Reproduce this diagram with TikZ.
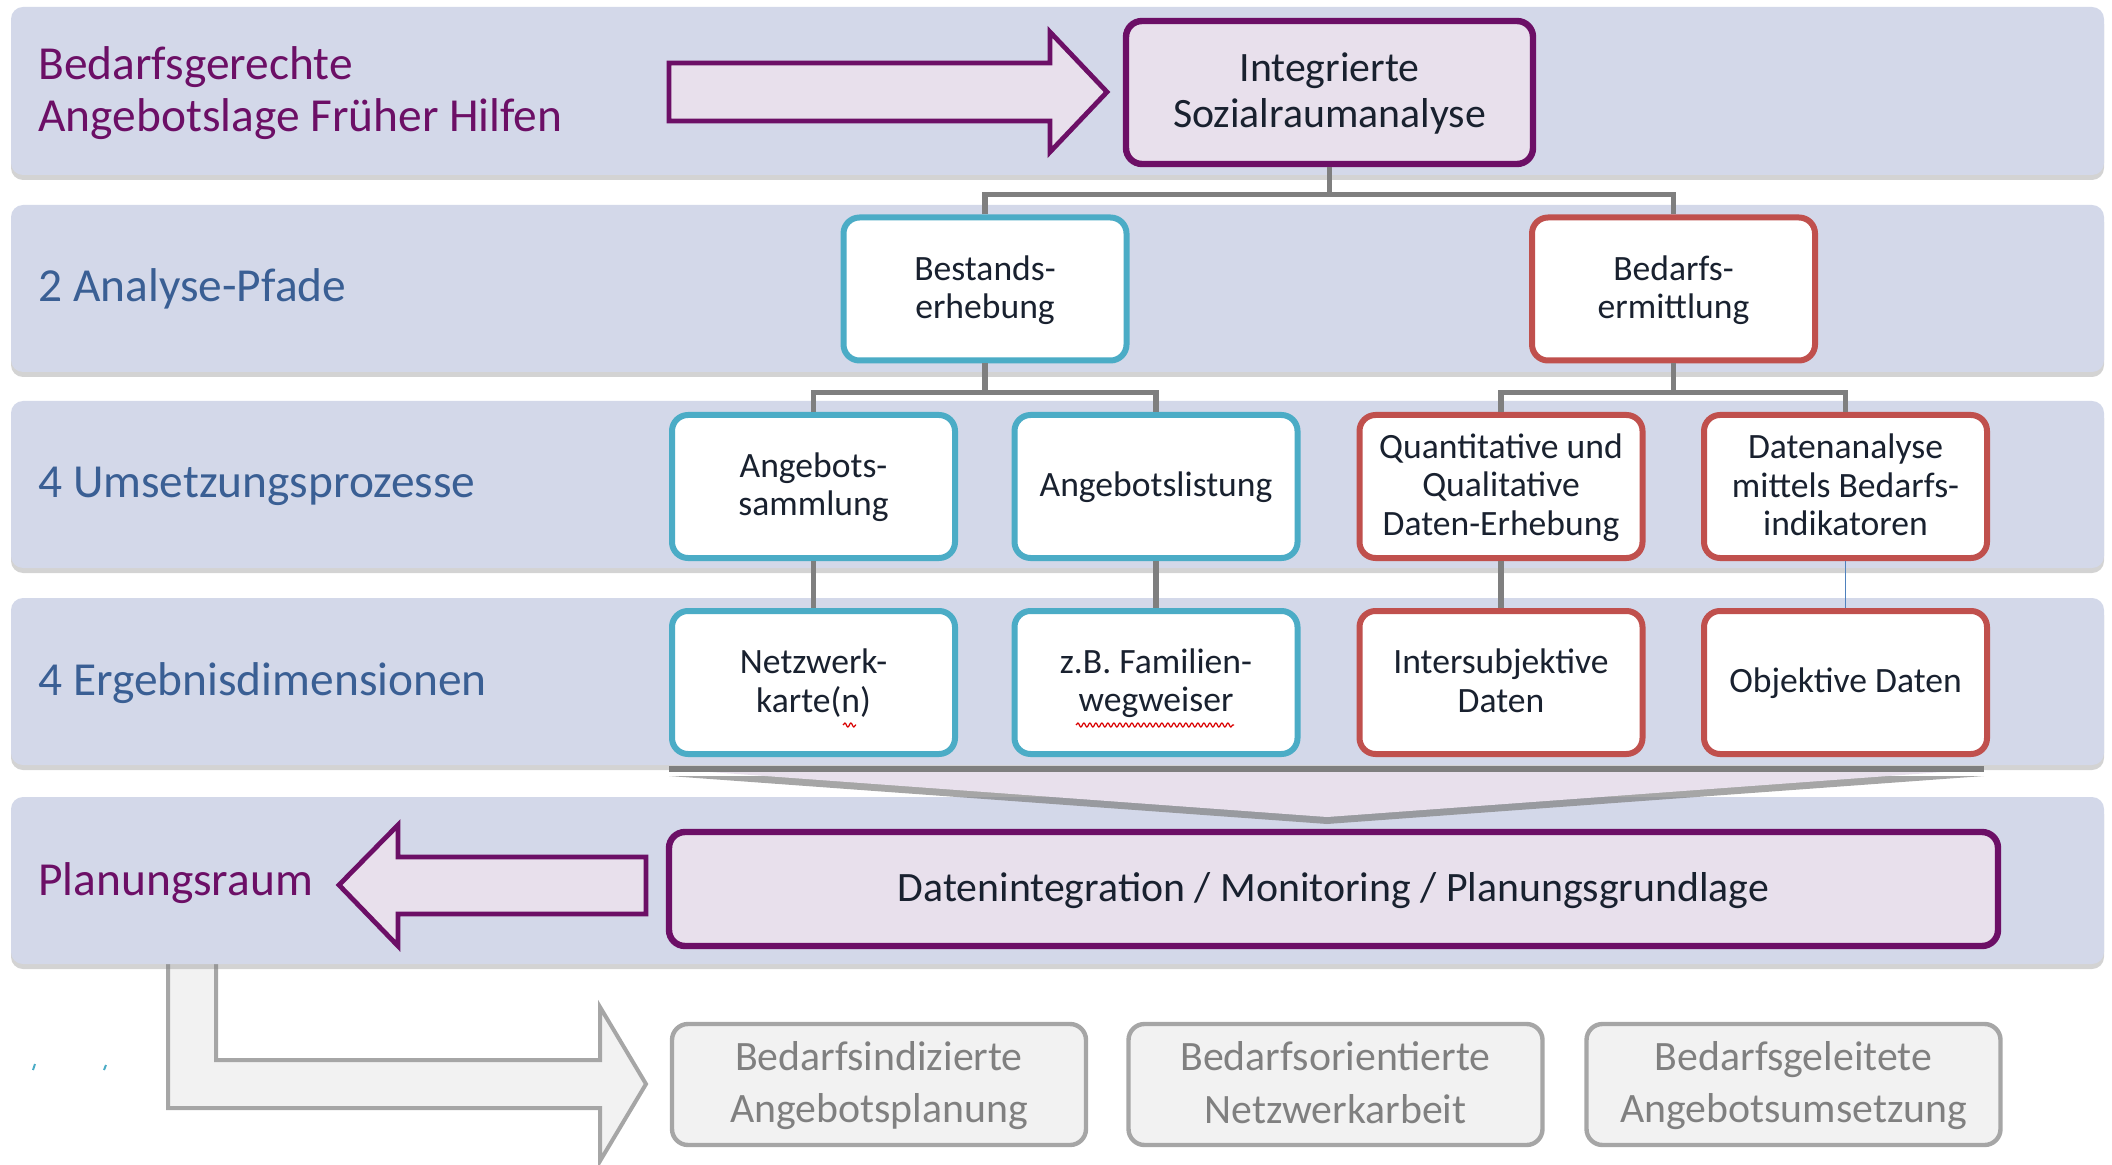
\documentclass[tikz,border=0pt]{standalone}
\usepackage{fontspec}
\setmainfont{Carlito}
\usetikzlibrary{shadows,decorations.pathmorphing}

\definecolor{bandfill}{HTML}{D3D8E9}
\definecolor{purp}{HTML}{6C0F66}
\definecolor{purpfill}{HTML}{E8E0EC}
\definecolor{bluetxt}{HTML}{3A5F94}
\definecolor{tealbd}{HTML}{4BACC6}
\definecolor{redbd}{HTML}{C0504D}
\definecolor{conngray}{HTML}{7F7F7F}
\definecolor{boxtxt}{HTML}{19212F}
\definecolor{lightfill}{HTML}{F2F2F2}
\definecolor{midgray}{HTML}{A6A6A6}
\definecolor{graytxt}{HTML}{808080}
\definecolor{thinblue}{HTML}{4F81BD}

% line strut: equal line boxes for every text line
\newcommand\lstrut{\vrule width0pt height0.75em depth0.16em}

\begin{document}
\begin{tikzpicture}[x=0.5pt,y=-0.5pt,
  bandbox/.style={fill=bandfill, rounded corners=6pt,
    drop shadow={shadow xshift=0pt,shadow yshift=-2.5pt,opacity=0.35}},
  basebox/.style={rectangle, rounded corners=8pt, align=center, text=boxtxt,
    inner sep=2pt},
  tealbox/.style={basebox, draw=tealbd, fill=white, line width=3pt,
    minimum width=141.5pt, minimum height=71.5pt,
    font=\fontsize{17.8}{19.2}\selectfont},
  redbox/.style={tealbox, draw=redbd},
  purpbox/.style={basebox, draw=purp, fill=purpfill, line width=3.2pt,
    font=\fontsize{20.9}{22.9}\selectfont},
  graybox/.style={basebox, draw=midgray, fill=lightfill, text=graytxt,
    line width=2.2pt, minimum width=207pt, minimum height=60.5pt,
    font=\fontsize{20.9}{26.3}\selectfont},
  rowlabel/.style={anchor=west, text=bluetxt, align=left, inner sep=0pt,
    font=\fontsize{23.7}{26.3}\selectfont},
  conn/.style={draw=conngray, line width=2.6pt},
  bigarrow/.style={draw=purp, fill=purpfill, line width=2.4pt, line join=miter},
  grayarrow/.style={draw=midgray, fill=lightfill, line width=2pt, line join=miter},
  wavy/.style={draw=red!85!black, line width=0.6pt, decorate,
    decoration={snake, amplitude=1pt, segment length=3pt}}
]
\useasboundingbox (0,0) rectangle (2112,1165);

% bent arrow leading from the planning band to the outcome boxes
\path[grayarrow] (168,930) -- (216,930) -- (216,1060) -- (600,1060) -- (600,1007)
  -- (646,1084) -- (600,1161) -- (600,1108) -- (168,1108) -- cycle;

% horizontal bands
\path[bandbox] (11,7)   rectangle (2104,175);
\path[bandbox] (11,205) rectangle (2104,372);
\path[bandbox] (11,401) rectangle (2104,568);
\path[bandbox] (11,598) rectangle (2104,765);
\path[bandbox] (11,797) rectangle (2104,964);

% funnel collecting the results
\path[fill=purpfill, drop shadow={shadow xshift=0pt,shadow yshift=-3.5pt,opacity=0.7}]
  (669,769) -- (1984,769) -- (1327,817) -- cycle;
\draw[conn] (669,769) -- (1984,769);

% row labels
\node[rowlabel, text=purp] (lab1) at (38,93) {Bedarfsgerechte\\Angebotslage Früher Hilfen};
\node[rowlabel] (lab2) at (38,289) {2 Analyse-Pfade};
\node[rowlabel] (lab3) at (38,486) {4 Umsetzungsprozesse};
\node[rowlabel] (lab4) at (38,683) {4 Ergebnisdimensionen};
\node[rowlabel, text=purp] (lab5) at (38,883) {Planungsraum};

% block arrows
\path[bigarrow] (669,63) -- (1050,63) -- (1050,32) -- (1107,92) -- (1050,152)
  -- (1050,121) -- (669,121) -- cycle;
\path[bigarrow] (646,857) -- (398,857) -- (398,825) -- (339,885) -- (398,946)
  -- (398,914) -- (646,914) -- cycle;

% tree of boxes
\node[purpbox, minimum width=203.5pt, minimum height=71.5pt] (integ) at (1329.5,92.5)
  {\lstrut Integrierte\\\lstrut Sozialraumanalyse};
\node[tealbox] (bestand) at (985,289) {\lstrut Bestands-\\\lstrut erhebung};
\node[redbox] (bedarf) at (1673.5,289) {\lstrut Bedarfs-\\\lstrut ermittlung};
\node[tealbox] (r3a) at (813.5,486.5) {\lstrut Angebots-\\\lstrut sammlung};
\node[tealbox] (r3b) at (1156,486.5) {\lstrut Angebotslistung};
\node[redbox] (r3c) at (1501,486.5) {\lstrut Quantitative und\\\lstrut Qualitative\\\lstrut Daten-Erhebung};
\node[redbox] (r3d) at (1845.5,486.5) {\lstrut Datenanalyse\\\lstrut mittels Bedarfs-\\\lstrut indikatoren};
\node[tealbox] (r4a) at (813.5,682.5) {\lstrut Netzwerk-\\\lstrut karte(n)};
\node[tealbox] (r4b) at (1156,682.5) {\lstrut z.B. Familien-\\\lstrut wegweiser};
\node[redbox] (r4c) at (1501,682.5) {\lstrut Intersubjektive\\\lstrut Daten};
\node[redbox] (r4d) at (1845.5,682.5) {\lstrut Objektive Daten};

\node[purpbox, minimum width=664.5pt, minimum height=57pt] (datint) at (1333.5,889)
  {\lstrut Datenintegration / Monitoring / Planungsgrundlage};

\node[graybox] (out1) at (879,1084.5) {\lstrut Bedarfsindizierte\\\lstrut Angebotsplanung};
\node[graybox] (out2) at (1335.5,1084.5) {\lstrut Bedarfsorientierte\\\lstrut Netzwerkarbeit};
\node[graybox] (out3) at (1793.5,1084.5) {\lstrut Bedarfsgeleitete\\\lstrut Angebotsumsetzung};

% connectors
\draw[conn] (integ.south) -- ++(0,27) -| (bestand.north);
\draw[conn] (integ.south) -- ++(0,27) -| (bedarf.north);
\draw[conn] (bestand.south) -- ++(0,29) -| (r3a.north);
\draw[conn] (bestand.south) -- ++(0,29) -| (r3b.north);
\draw[conn] (bedarf.south) -- ++(0,29) -| (r3c.north);
\draw[conn] (bedarf.south) -- ++(0,29) -| (r3d.north);
\draw[conn] (r3a) -- (r4a);
\draw[conn] (r3b) -- (r4b);
\draw[conn] (r3c) -- (r4c);
\draw[draw=thinblue, line width=0.8pt] (r3d) -- (r4d);

% spell-check underlines
\path[wavy] (843,725) -- (856,725);
\path[wavy] (1076,725) -- (1234,725);

% small marks at the lower left
\draw[tealbd, line width=1pt] (33,1070) -- (35,1064);
\draw[tealbd, line width=1pt] (104,1070) -- (106,1065);
\end{tikzpicture}
\end{document}
